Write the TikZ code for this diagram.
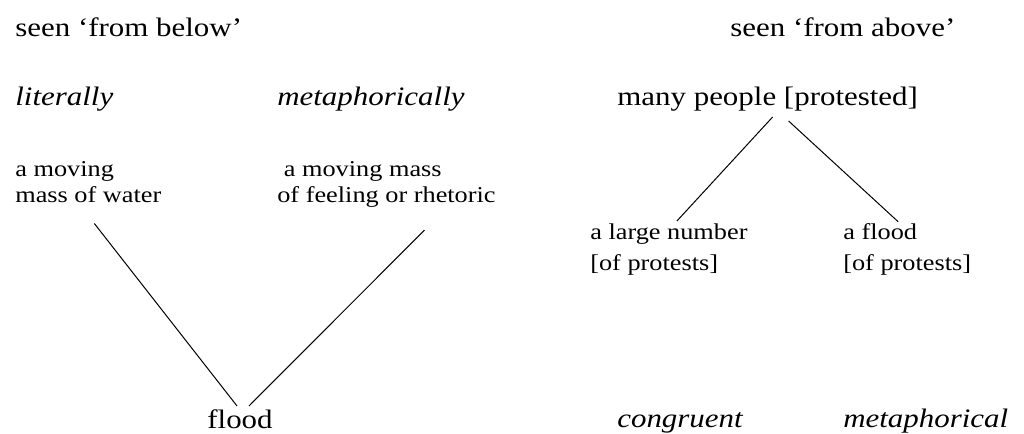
\documentclass[tikz,border=0pt]{standalone}
\usepackage{fontspec}
\setmainfont{Liberation Serif}
\usetikzlibrary{calc}

\begin{document}
\begin{tikzpicture}[
    x=0.75pt, y=-0.75pt,
    wider/.style={xscale=1.16, transform shape},
    head/.style={wider, anchor=base west, inner sep=0pt, font=\fontsize{20}{24}\selectfont},
    mode/.style={head, font=\fontsize{20}{24}\selectfont\itshape},
    gloss/.style={wider, anchor=base west, inner sep=0pt, align=left, font=\fontsize{17}{19.5}\selectfont},
    wide/.style={gloss, font=\fontsize{17}{23.25}\selectfont},
    link/.style={line width=0.75pt}
]
    \useasboundingbox (0,0) rectangle (1024,434);

    % Seen from below
    \node[head] (below) at (15,37) {seen ‘from below’};
    \node[mode] (lit) at (15,106) {literally};
    \node[mode] (meta) at (277,106) {metaphorically};
    \node[gloss] (water) at (15,203) {a moving\\mass of water};
    \node[gloss] (feeling) at (277,203) {\ a moving mass\\of feeling or rhetoric};
    \node[head, anchor=base] (flood) at (240,428) {flood};

    % Seen from above
    \node[head] (above) at (730,37) {seen ‘from above’};
    \node[head] (people) at (617,106) {many people [protested]};
    \node[wide] (number) at (590,271) {a large number\\{}[of protests]};
    \node[wide] (aflood) at (843,271) {a flood\\{}[of protests]};
    \node[mode] (congruent) at (617,427) {congruent};
    \node[mode] (metaphorical) at (843,427) {metaphorical};

    % Links
    \draw[link] ($(water.south)+(6,20)$) -- ($(flood.north)+(-3,-3)$);
    \draw[link] ($(feeling.south)+(38,22)$) -- ($(flood.north)+(9,-3)$);
    \draw[link] ($(people.south)+(5,5)$) -- ($(number.north)+(8,-3)$);
    \draw[link] ($(people.south)+(21,9)$) -- ($(aflood.north)+(-9,-2)$);
\end{tikzpicture}
\end{document}
